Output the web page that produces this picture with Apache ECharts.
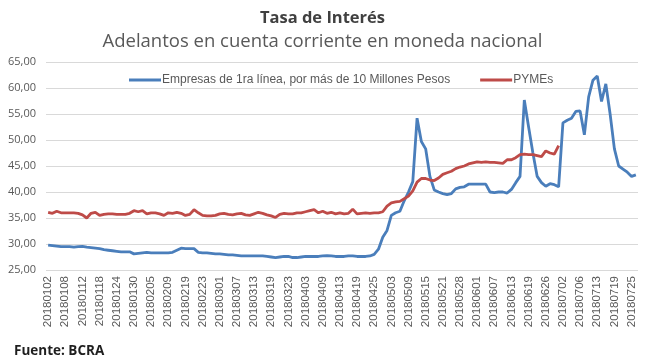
<!DOCTYPE html>
<html><head><meta charset="utf-8">
<script src="https://cdn.jsdelivr.net/npm/echarts@6/dist/echarts.min.js"></script>
<style>html,body{margin:0;padding:0;background:#fff}#c{width:645px;height:360px}</style>
</head><body><div id="c"></div>
<script>
var categories = [
'20180102','20180103','20180104','20180105','20180108','20180109','20180110','20180111','20180112','20180115',
'20180116','20180117','20180118','20180119','20180122','20180123','20180124','20180125','20180126','20180129',
'20180130','20180131','20180201','20180202','20180205','20180206','20180207','20180208','20180209','20180214',
'20180215','20180216','20180219','20180220','20180221','20180222','20180223','20180226','20180227','20180228',
'20180301','20180302','20180305','20180306','20180307','20180308','20180309','20180312','20180313','20180314',
'20180315','20180316','20180319','20180320','20180321','20180322','20180323','20180326','20180327','20180328',
'20180403','20180404','20180405','20180406','20180409','20180410','20180411','20180412','20180413','20180416',
'20180417','20180418','20180419','20180420','20180423','20180424','20180425','20180426','20180427','20180502',
'20180503','20180504','20180507','20180508','20180509','20180510','20180511','20180514','20180515','20180516',
'20180517','20180518','20180521','20180522','20180523','20180524','20180528','20180529','20180530','20180531',
'20180601','20180604','20180605','20180606','20180607','20180608','20180611','20180612','20180613','20180614',
'20180615','20180618','20180619','20180621','20180622','20180625','20180626','20180627','20180628','20180629',
'20180702','20180703','20180704','20180705','20180706','20180710','20180711','20180712','20180713','20180716',
'20180717','20180718','20180719','20180720','20180723','20180724','20180725','20180726'
];
var empresas = [
29.8,29.7,29.6,29.5,29.5,29.5,29.4,29.5,29.55,29.4,
29.3,29.2,29.1,28.9,28.8,28.7,28.6,28.5,28.5,28.5,
28.1,28.2,28.3,28.4,28.3,28.3,28.3,28.3,28.3,28.4,
28.8,29.2,29.1,29.1,29.1,28.4,28.3,28.3,28.2,28.1,
28.1,28.0,27.9,27.9,27.8,27.7,27.7,27.7,27.7,27.7,
27.7,27.6,27.5,27.4,27.5,27.6,27.6,27.4,27.4,27.5,
27.6,27.6,27.6,27.6,27.7,27.75,27.7,27.6,27.6,27.6,
27.7,27.7,27.6,27.6,27.6,27.7,28.0,29.0,31.3,32.6,
35.5,36.0,36.3,38.3,40.0,42.0,54.2,49.7,48.3,43.0,
40.4,40.0,39.7,39.5,39.7,40.6,40.9,41.0,41.5,41.5,
41.5,41.5,41.5,40.0,39.9,40.0,40.0,39.8,40.5,41.8,
43.0,57.7,52.5,47.5,43.0,41.8,41.1,41.6,41.4,41.0,
53.3,53.8,54.2,55.5,55.6,51.0,58.3,61.5,62.3,57.4,
60.8,55.0,48.3,45.0,44.4,43.8,43.0,43.3
];
var pymes = [
36.1,35.9,36.3,36.0,36.0,36.0,36.0,35.9,35.6,35.0,
35.9,36.1,35.5,35.7,35.8,35.8,35.7,35.7,35.7,35.9,
36.4,36.2,36.4,35.8,36.0,36.0,35.8,35.5,36.0,35.9,
36.1,35.9,35.5,35.7,36.6,36.0,35.5,35.4,35.4,35.5,
35.8,35.9,35.7,35.6,35.8,35.9,35.6,35.5,35.8,36.1,
35.9,35.6,35.4,35.1,35.7,35.9,35.8,35.8,36.0,36.0,
36.2,36.4,36.6,36.0,36.3,35.9,36.1,35.8,36.0,35.8,
35.9,36.7,35.8,35.9,36.0,35.9,36.0,36.0,36.2,37.3,
37.9,38.1,38.2,38.7,39.2,40.2,41.9,42.6,42.6,42.3,
42.2,42.7,43.4,43.7,44.0,44.5,44.8,45.0,45.4,45.6,
45.8,45.7,45.8,45.7,45.7,45.6,45.5,46.2,46.2,46.6,
47.2,47.3,47.2,47.2,47.0,46.8,47.9,47.5,47.3,48.9
];
var yMin = 25, yMax = 65, yStep = 5;

var chart = echarts.init(document.getElementById('c'), null, {renderer:'canvas'});
var grey = '#595959';
chart.setOption({
  animation: false,
  backgroundColor: '#fff',
  title: [
    {text: 'Tasa de Interés', left: 'center', top: 5,
     textStyle: {fontFamily: 'Open Sans', fontSize: 16.5, fontWeight: 'bold', color: '#404040'}},
    {text: 'Adelantos en cuenta corriente en moneda nacional', left: 'center', top: 27,
     textStyle: {fontFamily: 'Open Sans', fontSize: 18.5, fontWeight: 'normal', color: grey}},
    {text: 'Fuente: BCRA', left: 9, top: 339,
     textStyle: {fontFamily: 'Open Sans', fontSize: 13.5, fontWeight: 'bold', color: '#1f1f1f'}}
  ],
  legend: {
    left: 124, top: 69, itemWidth: 32, itemHeight: 3, itemGap: 30, icon: 'rect',
    textStyle: {fontFamily: 'Liberation Sans', fontSize: 12, color: grey, padding: [0,0,0,-4]},
    data: ['Empresas de 1ra línea, por más de 10 Millones Pesos', 'PYMEs']
  },
  grid: {left: 46, right: 7, top: 62, bottom: 90, containLabel: false},
  xAxis: {
    type: 'category', data: categories, boundaryGap: true,
    axisLine: {show: false}, axisTick: {show: false},
    axisLabel: {interval: 3, rotate: 90, fontFamily: 'Liberation Sans', fontSize: 11.5, color: grey, margin: 6}
  },
  yAxis: {
    type: 'value', min: yMin, max: yMax, interval: yStep,
    axisLine: {show: false}, axisTick: {show: false},
    splitLine: {lineStyle: {color: '#d9d9d9', width: 1}},
    axisLabel: {fontFamily: 'Open Sans', fontSize: 11, color: grey, margin: 10,
      formatter: function(v){ return v.toFixed(2).replace('.', ','); }}
  },
  series: [
    {name: 'Empresas de 1ra línea, por más de 10 Millones Pesos', type: 'line', data: empresas,
     showSymbol: false, symbol: 'none', lineStyle: {color: '#4a7ebb', width: 2.8}, itemStyle: {color: '#4a7ebb'}},
    {name: 'PYMEs', type: 'line', data: pymes,
     showSymbol: false, symbol: 'none', lineStyle: {color: '#be4b48', width: 2.8}, itemStyle: {color: '#be4b48'}}
  ]
});
</script>
</body></html>
